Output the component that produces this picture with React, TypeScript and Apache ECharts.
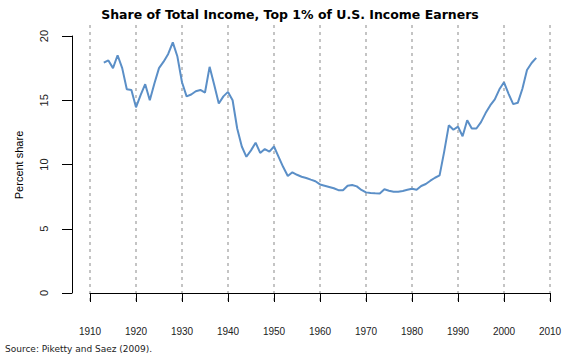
import React, { useEffect, useRef } from "react";
import * as echarts from "echarts";

const years: number[] = [];
for (let y = 1913; y <= 2007; y++) years.push(y);

const shares: number[] = [
  17.92, 18.1, 17.5, 18.5, 17.5, 15.85, 15.8, // 1913-1919
  14.45, 15.4, 16.25, 15.0, 16.3, 17.5, 18.0, 18.6, 19.5, 18.4, // 1920-1929
  16.4, 15.3, 15.45, 15.7, 15.8, 15.6, 17.6, 16.2, 14.75, 15.3, // 1930-1939
  15.65, 15.0, 12.8, 11.4, 10.6, 11.1, 11.7, 10.9, 11.2, 11.0, // 1940-1949
  11.4, 10.6, 9.8, 9.1, 9.39, 9.2, 9.05, 8.95, 8.82, 8.7, // 1950-1959
  8.45, 8.35, 8.25, 8.15, 8.0, 8.0, 8.35, 8.4, 8.3, 8.02, // 1960-1969
  7.83, 7.78, 7.76, 7.75, 8.07, 7.96, 7.88, 7.88, 7.94, 8.03, // 1970-1979
  8.12, 8.03, 8.33, 8.48, 8.74, 8.97, 9.15, 11.0, 13.05, 12.7, // 1980-1989
  12.95, 12.2, 13.45, 12.8, 12.8, 13.3, 14.0, 14.6, 15.07, 15.85, // 1990-1999
  16.4, 15.5, 14.7, 14.8, 15.9, 17.35, 17.9, 18.3, // 2000-2007
];

const titleText = "Share of Total Income, Top 1% of U.S. Income Earners";
const yAxisTitle = "Percent share";
const sourceText = "Source: Piketty and Saez (2009).";

export default function App() {
  const ref = useRef<HTMLDivElement>(null);
  useEffect(() => {
    if (!ref.current) return;
    const chart = echarts.init(ref.current, undefined, { renderer: "svg" });
    const data = years.map((y, i) => [y, shares[i]]);
    chart.setOption({
      animation: false,
      backgroundColor: "#ffffff",
      title: {
        text: titleText,
        left: 285,
        top: 3,
        textAlign: "center",
        textStyle: {
          fontFamily: "DejaVu Sans",
          fontWeight: "bold",
          fontSize: 12.5,
          color: "#000",
        },
      },
      grid: [
        { left: 90, right: 31, top: 36, bottom: 64 },
        { left: 90, right: 31, top: 25, bottom: 54 },
      ],
      xAxis: [
        {
          type: "value",
          gridIndex: 0,
          min: 1910,
          max: 2010,
          interval: 10,
          offset: 10,
          axisLine: { show: true, lineStyle: { color: "#000", width: 1 } },
          axisTick: { show: true, length: 9, lineStyle: { color: "#000" } },
          axisLabel: {
            margin: 23,
            fontSize: 10,
            fontFamily: "Liberation Sans Narrow, Liberation Sans",
            color: "#222",
            formatter: (v: number) => String(v),
          },
          splitLine: { show: false },
        },
        {
          type: "value",
          gridIndex: 1,
          min: 1910,
          max: 2010,
          interval: 10,
          axisLine: { show: false },
          axisTick: { show: false },
          axisLabel: { show: false },
          splitLine: {
            show: true,
            lineStyle: { color: "#c4c4c4", width: 2, type: [3, 4] },
          },
        },
      ],
      yAxis: [
        {
          type: "value",
          gridIndex: 0,
          min: 0,
          max: 20,
          interval: 5,
          offset: 18,
          axisLine: { show: true, lineStyle: { color: "#000", width: 1 } },
          axisTick: { show: true, length: 10, lineStyle: { color: "#000" } },
          axisLabel: {
            rotate: 90,
            margin: 23,
            fontSize: 11,
            fontFamily: "Liberation Sans",
            color: "#222",
          },
          splitLine: { show: false },
        },
        {
          type: "value",
          gridIndex: 1,
          min: 0,
          max: 1,
          show: false,
          splitLine: { show: false },
        },
      ],
      graphic: [
        {
          type: "text",
          x: 19,
          y: 165,
          rotation: Math.PI / 2,
          style: {
            text: yAxisTitle,
            fontSize: 11,
            fontFamily: "Liberation Sans",
            fill: "#000",
            textAlign: "center",
            textVerticalAlign: "middle",
          },
        },
        {
          type: "text",
          x: 5,
          y: 349,
          style: {
            text: sourceText,
            fontSize: 9,
            fontFamily: "DejaVu Sans",
            fill: "#222",
            textAlign: "left",
            textVerticalAlign: "middle",
          },
        },
      ],
      series: [
        {
          type: "line",
          xAxisIndex: 0,
          yAxisIndex: 0,
          data,
          showSymbol: false,
          symbol: "none",
          lineStyle: { color: "#5b8fc7", width: 2 },
          z: 5,
        },
      ],
    });
    return () => chart.dispose();
  }, []);
  return (
    <div
      ref={ref}
      style={{ position: "fixed", left: 0, top: 0, width: 581, height: 357 }}
    />
  );
}
